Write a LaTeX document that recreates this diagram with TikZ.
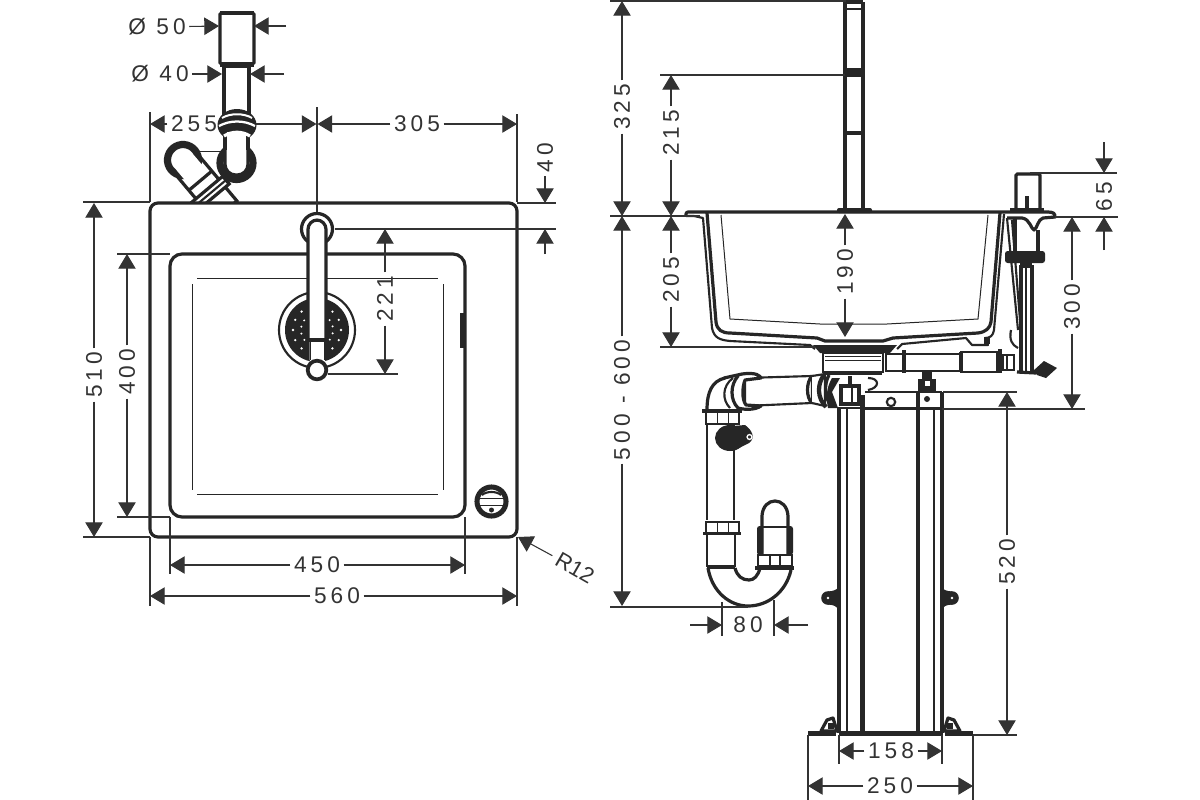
\documentclass[tikz,border=0pt]{standalone}
\usepackage{fontspec}
\setmainfont{Liberation Sans}
\newfontfamily\dimfont[LetterSpace=18]{Liberation Sans}
\usetikzlibrary{arrows.meta}
\definecolor{ink}{HTML}{262626}
\definecolor{dimc}{HTML}{333333}
\tikzset{
  x=0.75pt,y=-0.75pt,
  hair/.style={draw=ink,line width=0.75pt},
  med/.style={draw=ink,line width=1.6pt},
  thk/.style={draw=ink,line width=2.4pt},
  fat/.style={draw=ink,line width=3.2pt},
  extl/.style={draw=dimc,line width=0.8pt},
  dima/.style={draw=dimc,line width=0.8pt,-{Triangle[length=11pt,width=13pt,fill=dimc]}},
  lab/.style={font=\dimfont\fontsize{17}{18}\selectfont,text=dimc,inner sep=2.5pt},
}
\begin{document}
\begin{tikzpicture}
\useasboundingbox (0,0) rectangle (1200,800);
\fill[white] (0,0) rectangle (1200,800);

%% ---------- LEFT: top view ----------
% trap seen from above
\draw[thk,fill=white,rounded corners=1pt] (220,13) rectangle (254,64);
\draw[fat] (220,13)--(254,13);
\draw[thk,fill=white] (224,66) rectangle (249,115);
\draw[fat] (220,64.5)--(254,64.5);
\begin{scope}
\clip (100,90) rectangle (300,201.5);
\draw[hair] (200,151)--(226,151);
\begin{scope}[shift={(183,160)},rotate=-50]
  \draw[thk,fill=white] (2,-15)--(66,-15)--(66,15)--(2,15);
  \draw[draw=ink,line width=5.4pt] (0,0) circle[radius=15.5];
  \fill[white] (3,-11.5) rectangle (21,11.5);
  \draw[thk] (27,-15)--(27,15);
  \draw[thk,fill=white] (38,-20) rectangle (48,20);
  \draw[med] (43,-20)--(43,20);
\end{scope}
\end{scope}
\draw[draw=ink,line width=5.4pt,fill=white] (236.5,163) circle[radius=16.5];
\draw[thk,fill=white,rounded corners=8pt] (225,130)--(225,175)--(248,175)--(248,130);
\fill[ink] (237,125) ellipse[x radius=19.5,y radius=16];
\fill[white] (225,132) rectangle (247,145);
\draw[thk] (225,130)--(225,150) (248,130)--(248,150);
\draw[white,line width=1.5pt] (222,118) .. controls (230,113) and (244,113) .. (252,118);
\draw[white,line width=1.7pt] (219,126) .. controls (230,120) and (244,120) .. (255,126);
\draw[white,line width=2.4pt] (224,136) .. controls (232,131) and (242,131) .. (250,136);

% plate, bowl
\draw[thk,rounded corners=6pt] (150,203) rectangle (517,537);
\draw[thk,rounded corners=9pt] (170,254) rectangle (465,517);
\draw[fat] (462,313)--(462,348);
\draw[hair] (197,278)--(438,278) (192,284)--(192,490) (197,494)--(438,494) (443,284)--(443,490);
% overflow
\draw[draw=ink,line width=3.8pt,fill=white] (491.5,501.5) circle[radius=14.5];
\draw[hair] (480,498)--(503,498) (480,505)--(503,505);
\draw[med] (482,495) .. controls (486,491) and (497,491) .. (501,495);
\fill[ink] (491.5,510) circle[radius=2.5];
% strainer
\draw[med,fill=white] (317,330) circle[radius=38];
\fill[ink] (317,330) circle[radius=32];
\foreach \a in {-50,-25,0,25,50,130,155,180,205,230}
  {\fill[white] (317,330) ++(\a:24) circle[radius=1.3];
   \fill[white] (317,330) ++(\a+12:16) circle[radius=1.1];}
% tap
\draw[draw=ink,line width=2.4pt,fill=white] (317,229) circle[radius=15.5];
\draw[thk,fill=white,rounded corners=7pt] (308,360)--(308,220)--(326,220)--(326,360);
\fill[white] (309.5,340) rectangle (324.5,362);
\draw[thk] (308,340)--(326,340);
\draw[hair] (310,340)--(310,360) (324,340)--(324,360);
\draw[draw=ink,line width=2.8pt,fill=white] (317,370) circle[radius=9.3];

% left dimensions
\draw[extl] (150,112)--(150,202) (517,114)--(517,202) (317,107)--(317,212)
  (83,202)--(150,202) (83,537)--(150,537)
  (117,254)--(170,254) (117,517)--(170,517)
  (150,537)--(150,606) (517,537)--(517,606)
  (170,517)--(170,574) (465,517)--(465,574)
  (517,203)--(556,203) (335,229)--(556,229) (328,374)--(398,374);

\node[lab] (d50) at (157,27) {Ø 50};
\draw[dima] (d50)--(219,26);
\coordinate (d50r) at (286,26); \draw[dima] (d50r)--(254,26);
\node[lab] (d40) at (160,74) {Ø 40};
\draw[dima] (d40)--(222,74);
\coordinate (d40r) at (284,74); \draw[dima] (d40r)--(250,74);

\node[lab] (n255) at (194,124) {255};
\draw[dima] (n255)--(150,124);
\coordinate (p255) at (256,124); \draw[dima] (p255)--(316.5,124);
\node[lab] (n305) at (417,124) {305};
\draw[dima] (n305)--(317.5,124);
\draw[dima] (n305)--(517,124);

\node[lab,rotate=90] (n40) at (545,158) {40};
\draw[dima] (n40)--(545,203);
\coordinate (e40b) at (545,254); \draw[dima] (e40b)--(545,229);

\node[lab,rotate=90] (n221) at (385,299) {221};
\draw[dima] (n221)--(385,229);
\draw[dima] (n221)--(385,374);

\node[lab,rotate=90] (n510) at (94,375) {510};
\draw[dima] (n510)--(94,203);
\draw[dima] (n510)--(94,537);
\node[lab,rotate=90] (n400) at (127,372) {400};
\draw[dima] (n400)--(127,254);
\draw[dima] (n400)--(127,517);

\node[lab] (n450) at (317,565) {450};
\draw[dima] (n450)--(170,565);
\draw[dima] (n450)--(465,565);
\node[lab] (n560) at (337,596) {560};
\draw[dima] (n560)--(150,596);
\draw[dima] (n560)--(517,596);

\node[font=\fontsize{16.5}{18}\selectfont,text=dimc,inner sep=4pt,rotate=-30] (r12) at (575,568) {R12};
\draw[dima] (r12)--(518,537);

%% ---------- RIGHT: side view ----------
% frame
\draw[fat] (839,407)--(839,733) (918,392)--(918,733) (942,392)--(942,733);
\draw[fat] (862.5,395)--(862.5,733);
\draw[med] (847,407)--(847,733) (934,408)--(934,733);
\draw[fat] (839,733.5)--(943,733.5);
\draw[med] (865,392)--(942,392);
\draw[med] (863,408.5)--(942,408.5);
\draw[med] (891,402) circle[radius=4.2];
\fill[ink] (927,399) circle[radius=3];
% bolt
\fill[ink] (922,372) rectangle (932,379);
\fill[ink] (918,379) rectangle (936,391);
\fill[white] (924.5,381) rectangle (929.5,386);
% lugs
\foreach \x/\s in {828/1,952/-1}{
  \fill[ink] (\x,598) circle[radius=6.8];
  \fill[ink] (\x,591.5) .. controls (\x+\s*6,591) and (\x+\s*8,590) .. (\x+\s*11,587) -- (\x+\s*11,610) .. controls (\x+\s*8,606) and (\x+\s*6,605) .. (\x,604.5) --cycle;
  \fill[white] (\x,598) circle[radius=1.4];
}
% feet
\draw[fat] (808,733.5)--(836,733.5) (945,733.5)--(973,733.5);
\foreach \x/\s in {826/1,955/-1}{
  \draw[thk,fill=white,line join=round] (\x-\s*5,731)--(\x+\s*1,720)--(\x+\s*7,718)--(\x+\s*11,731)--cycle;
  \fill[ink] (\x+\s*2,723) rectangle (\x+\s*8,729);
}

% tap above bowl
\draw[fat] (845,2)--(845,208) (863,2)--(863,208);
\draw[thk] (845,2)--(863,2);
\draw[med] (845,9)--(863,9);
\fill[ink] (844,68) rectangle (864,77);
\draw[thk] (845,133)--(863,133);
\fill[ink,rounded corners=1.5pt] (837,208) rectangle (872,213);

% bowl
\draw[thk,line join=round,rounded corners=1.5pt] (686,216)--(686,212)--(1048,212);
\draw[med,line join=round] (686,216)--(694,216)--(703,218)--(712,328) .. controls (714,338) and (720,340) .. (730,341) -- (810,345)--(815,349);
\draw[thk,line join=round] (707,213)--(716,322) .. controls (717,330) and (722,333) .. (730,333) -- (817,338) -- (825,341)--(883,341) -- (893,338) -- (978,333) .. controls (986,332) and (990,328) .. (991,322) -- (1000,213);
\draw[med,line join=round] (1004,214)--(994,330) .. controls (993,336) and (990,338) .. (985,338) -- (988,345) -- (972,345) -- (966,338) -- (902,344) -- (897,349);
\draw[hair] (721,215)--(730,319)--(820,324)--(887,324)--(978,319)--(988,215);
\fill[ink] (984,337) rectangle (990,344);

% waste outlet
\fill[ink] (813,345)--(897,345)--(890,353)--(820,353)--cycle;
\draw[med,fill=white] (823,353) rectangle (883,372);
\draw[hair] (825,356)--(881,356) (825,360)--(881,360);
\fill[ink] (826,370.5) rectangle (882,375);
% overflow pipe
\draw[med,fill=white] (886,354) rectangle (961,371);
\draw[med,fill=white] (961,352) rectangle (997,372);
\draw[thk] (961,352)--(961,372);
\draw[fat] (904,350)--(904,373);
\draw[fat] (1000,349)--(1000,373);
\draw[med,fill=white] (1003,355) rectangle (1014,370);
\draw[med] (1007,355)--(1007,370);

% right rim fixture
\draw[thk,fill=white,rounded corners=1pt] (1016,208)--(1016,174)--(1040,174)--(1040,208);
\draw[thk] (1027,196)--(1027,208);
\fill[ink] (1010,208) rectangle (1044,213);
\draw[thk,line join=round] (1048,212) .. controls (1054,212) and (1055,214) .. (1055,217) -- (1043,218) .. controls (1038,219) and (1037,229) .. (1034,230) .. controls (1031,229) and (1030,219) .. (1022,218) -- (1007,218);
\draw[thk] (1015,218)--(1015,252) (1038,230)--(1038,252);
\fill[ink,rounded corners=2pt] (1005,251) rectangle (1045,263);
\fill[ink] (1020,263) rectangle (1032,268);
\draw[thk] (1021,265)--(1021,372) (1032,265)--(1032,372);
\draw[med] (1026,265)--(1026,372);
\draw[med] (1007,218)--(1018,330) (1012,220)--(1020,320);
\draw[med] (1011,330) .. controls (1009,340) and (1012,345) .. (1018,348);
\draw[thk] (1017,372)--(1036,373);
\fill[ink,line join=round] (1033,371)--(1044,361)--(1057,368)--(1046,378)--(1037,375)--cycle;

% trap: horizontal
\draw[med,fill=white] (745,378)--(812,376)--(812,403)--(745,406)--cycle;
\draw[thk,fill=white,line join=round] (724,378)--(742,374) .. controls (757,372) and (760,376) .. (761,378) -- (745,380) .. controls (742,388) and (742,400) .. (746,405) -- (761,406) .. controls (755,410) and (745,410) .. (738,408) .. controls (730,400) and (730,385) .. (738,376);
\draw[med] (733,378) .. controls (722,386) and (722,400) .. (730,408);
\draw[thk] (725,378) .. controls (712,381) and (707,392) .. (707,410);
\draw[thk] (812,376) .. controls (806,382) and (806,398) .. (812,403);
\draw[med,fill=white] (812,376) -- (825,374) -- (825,406) -- (812,403);
\draw[fat] (824,375) .. controls (817,384) and (817,398) .. (826,407);
\draw[thk] (829,375) .. controls (824,384) and (824,398) .. (832,407);
\fill[ink] (832,378) -- (840,378) -- (832,392) -- (838,408) -- (828,408) .. controls (826,398) and (826,388) .. (832,378);
\draw[thk,fill=white] (841,386) rectangle (859,404);
\draw[med] (852,386)--(852,404);
\draw[thk] (850,376)--(850,386);
\draw[med] (868,378) .. controls (880,378) and (880,388) .. (868,390);
\draw[med] (838,408)--(864,408);
% trap: nut and vertical
\draw[med,fill=white] (706,411) rectangle (739,424);
\draw[thk] (702,411)--(742,411);
\draw[hair] (717,412)--(717,423) (728,412)--(728,423);
\draw[med] (707,424)--(707,520) (734,424)--(734,520);
\draw[med,fill=white] (706,522) rectangle (739,534);
\draw[thk] (703,533.5)--(741,533.5);
\draw[hair] (717,522)--(717,533) (728,522)--(728,533);
\draw[med] (707,534)--(707,567) (735,534)--(735,567);
\draw[thk] (707,567)--(735,567);
% side spigot
\fill[ink] (730,438) ellipse[x radius=15,y radius=13];
\fill[ink] (722,427)--(745,425) .. controls (752,430) and (756,438) .. (749,443) -- (735,450)--cycle;
\draw[draw=white,line width=1pt] (749.5,437) circle[radius=2.4];
% U bend
\draw[thk] (708,568) .. controls (712,592) and (730,606) .. (748,606) .. controls (768,606) and (786,592) .. (791,570);
\draw[thk] (735,568) .. controls (737,576) and (742,580) .. (749,580) .. controls (754,580) and (758,576) .. (760,568);
% right bottle
\draw[thk,fill=white] (762,558)--(762,516) .. controls (763,496) and (787,496) .. (788,516) -- (788,558);
\draw[med] (762,527)--(788,527);
\fill[ink,rounded corners=2pt] (757,526) rectangle (763,555);
\fill[ink,rounded corners=2pt] (787,526) rectangle (793,555);
\draw[med,fill=white] (758,555) rectangle (792,566);
\draw[med] (770,555)--(770,566) (780,555)--(780,566);
\draw[fat] (755,568)--(794,568);

% right dimensions
\draw[extl] (610,1)--(846,1) (660,75)--(845,75)
  (610,216)--(700,216) (660,347)--(815,347)
  (610,607)--(748,607)
  (722,602)--(722,636) (774,600)--(774,636)
  (1030,173)--(1117,173) (1055,217)--(1118,217)
  (942,409)--(1085,409) (943,392)--(1017,392) (973,735)--(1017,735)
  (839,735)--(839,764) (942,735)--(942,764)
  (808,735)--(808,800) (973,735)--(973,800);

\node[lab,rotate=90] (n325) at (622,107) {325};
\draw[dima] (n325)--(622,1);
\draw[dima] (n325)--(622,216);
\node[lab,rotate=90] (n500) at (622,400) {500 - 600};
\draw[dima] (n500)--(622,216);
\draw[dima] (n500)--(622,606);
\node[lab,rotate=90] (n215) at (671,133) {215};
\draw[dima] (n215)--(671,75);
\draw[dima] (n215)--(671,216);
\node[lab,rotate=90] (n205) at (671,280) {205};
\draw[dima] (n205)--(671,216);
\draw[dima] (n205)--(671,347);
\node[lab,rotate=90] (n190) at (845,272) {190};
\draw[dima] (n190)--(845,214);
\draw[dima] (n190)--(845,337);
\node[lab,rotate=90] (n300) at (1072,307) {300};
\draw[dima] (n300)--(1072,217);
\draw[dima] (n300)--(1072,409);
\node[lab,rotate=90] (n65) at (1104,197) {65};
\coordinate (t65) at (1104,142); \draw[dima] (t65)--(1104,173);
\coordinate (b65) at (1104,250); \draw[dima] (b65)--(1104,217);
\node[lab,rotate=90] (n520) at (1007,562) {520};
\draw[dima] (n520)--(1007,392);
\draw[dima] (n520)--(1007,735);
\node[lab] (n80) at (748,625) {80};
\coordinate (l80) at (690,625); \draw[dima] (l80)--(722,625);
\coordinate (r80) at (808,625); \draw[dima] (r80)--(774,625);
\node[lab] (n158) at (891,751) {158};
\draw[dima] (n158)--(839,751);
\draw[dima] (n158)--(942,751);
\node[lab] (n250) at (890,786) {250};
\draw[dima] (n250)--(808,786);
\draw[dima] (n250)--(973,786);
\end{tikzpicture}
\end{document}
